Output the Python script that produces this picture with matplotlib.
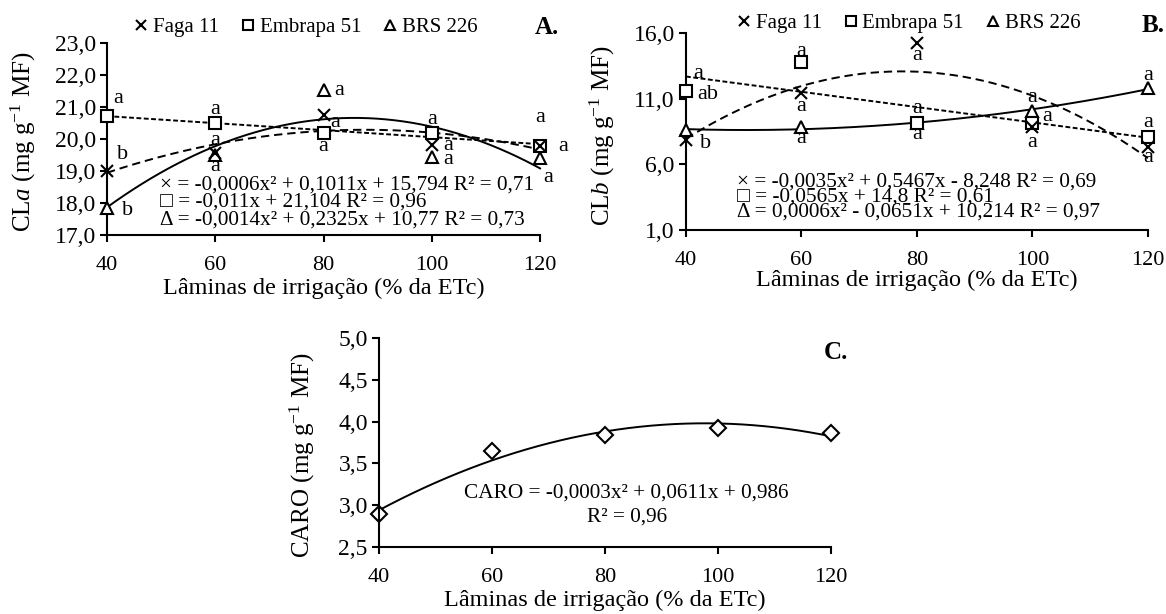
import numpy as np
import matplotlib
matplotlib.use('Agg')
import matplotlib.pyplot as plt

plt.rcParams['font.family'] = ['Liberation Serif', 'DejaVu Serif']
plt.rcParams['mathtext.fontset'] = 'custom'
plt.rcParams['mathtext.rm'] = 'Liberation Serif'
plt.rcParams['mathtext.it'] = 'Liberation Serif:italic'
plt.rcParams['lines.scale_dashes'] = False

## Data.
laminas = [40, 60, 80, 100, 120]
cultivares = ['Faga 11', 'Embrapa 51', 'BRS 226']

cla_faga     = [19.0, 19.56, 20.75, 19.81, 19.78]
cla_embrapa  = [20.72, 20.5, 20.19, 20.19, 19.78]
cla_brs      = [17.85, 19.5, 21.53, 19.44, 19.4]
cla_letras   = [['b', 'a', 'a', 'a', 'a'],
                ['a', 'a', 'a', 'a', 'a'],
                ['b', 'a', 'a', 'a', 'a']]
cla_eqs = ['\u00d7 = -0,0006x\u00b2 + 0,1011x + 15,794 R\u00b2 = 0,71',
           '\u25a1 = -0,011x + 21,104 R\u00b2 = 0,96',
           '\u0394 = -0,0014x\u00b2 + 0,2325x + 10,77 R\u00b2 = 0,73']

clb_faga     = [7.85, 11.43, 15.24, 8.85, 7.3]
clb_embrapa  = [11.6, 13.8, 9.15, 9.15, 8.1]
clb_brs      = [8.6, 8.85, 9.15, 10.06, 11.8]
clb_letras   = [['b', 'a', 'a', 'a', 'a'],
                ['ab', 'a', 'a', 'a', 'a'],
                ['a', 'a', 'a', 'a', 'a']]
clb_eqs = ['\u00d7 = -0,0035x\u00b2 + 0,5467x - 8,248 R\u00b2 = 0,69',
           '\u25a1 = -0,0565x + 14,8 R\u00b2 = 0,61',
           '\u0394 = 0,0006x\u00b2 - 0,0651x + 10,214 R\u00b2 = 0,97']

caro = [2.89, 3.65, 3.84, 3.92, 3.86]

## Plotting.
fig = plt.figure(figsize=(11.66, 6.14), dpi=100)
axA = fig.add_axes([0.0918, 0.6173, 0.3714, 0.3127])
axB = fig.add_axes([0.5883, 0.6254, 0.3962, 0.3208])
axC = fig.add_axes([0.3250, 0.1091, 0.3877, 0.3404])

x = np.array(laminas)
xs = np.linspace(40, 120, 200)

# marker, line style, fit degree for Faga / Embrapa / BRS
estilos = [('x', (0, (6, 3.5)), 2),
           ('s', (0, (3.5, 1.8)), 1),
           ('^', '-', 2)]

def painel(ax, series, letras, offsets):
    for k in [2, 1, 0]:
        y = np.array(series[k])
        mk, ls, deg = estilos[k]
        coef = np.polyfit(x, y, deg)
        ax.plot(xs, np.polyval(coef, xs), color='k', lw=1.4, ls=ls, zorder=2,
                clip_on=False)
    for k in [2, 1, 0]:
        y = np.array(series[k])
        mk = estilos[k][0]
        ax.plot(x, y, ls='none', marker=mk, ms=9, mfc='white', mec='k',
                mew=1.5, zorder=3, label=cultivares[k], clip_on=False)
        for i in range(5):
            dx, dy = offsets[k][i]
            ax.annotate(letras[k][i], (x[i], y[i]), xytext=(dx * 0.72, -dy * 0.72),
                        textcoords='offset points', ha='center', va='center',
                        fontsize=16, zorder=4)

def estilo_eixos(ax):
    for s in ['top', 'right']:
        ax.spines[s].set_visible(False)
    for s in ['left', 'bottom']:
        ax.spines[s].set_linewidth(1.5)
    ax.tick_params(width=1.5, length=5)
    ax.tick_params(axis='x', labelsize=16, pad=10)
    ax.tick_params(axis='y', labelsize=17, pad=3)
    ax.set_xlim(40, 120)
    ax.set_xticks(laminas)
    ax.set_xlabel('L\u00e2minas de irriga\u00e7\u00e3o (% da ETc)', fontsize=17.5, va='center')
    ax.yaxis.label.set_va('center')

def fmt(v):
    return '{:.1f}'.format(v).replace('.', ',')

# offsets in pixels (dx right, dy down) for the letters
offA = [[(16, -16), (0, -13), (12, 8), (16, 0), (23, 0)],
        [(11, -17), (0, -13), (0, 14), (0, -13), (0, -29)],
        [(21, 3), (0, 12), (16, 0), (16, 3), (8, 19)]]
offB = [[(20, 3), (0, 13), (0, 12), (0, 16), (0, 10)],
        [(22, 4), (0, -10), (0, -14), (15, -6), (0, -14)],
        [(12, -57), (0, 12), (0, 12), (0, -14), (0, -13)]]

# Panel A
painel(axA, [cla_faga, cla_embrapa, cla_brs], cla_letras, offA)
estilo_eixos(axA)
axA.set_ylim(17, 23)
axA.set_yticks(np.arange(17, 23.5, 1))
axA.set_yticklabels([fmt(v) for v in np.arange(17, 23.5, 1)])
axA.set_ylabel(r'CL$\it{a}$ (mg g$^{-1}$ MF)', fontsize=18)
axA.yaxis.set_label_coords(-0.194, 0.484)
axA.xaxis.set_label_coords(0.5, -0.276)
for j, eq in enumerate(cla_eqs):
    axA.text(0.122, [0.26, 0.172, 0.078][j], eq, transform=axA.transAxes,
             fontsize=15.3, ha='left', va='center')
axA.text(1.016, 1.083, 'A.', transform=axA.transAxes, fontsize=18,
         fontweight='bold', ha='center', va='center')

# Panel B
painel(axB, [clb_faga, clb_embrapa, clb_brs], clb_letras, offB)
estilo_eixos(axB)
axB.set_ylim(1, 16)
axB.set_yticks(np.arange(1, 16.5, 5))
axB.set_yticklabels([fmt(v) for v in np.arange(1, 16.5, 5)])
axB.set_ylabel(r'CL$\it{b}$ (mg g$^{-1}$ MF)', fontsize=18)
axB.yaxis.set_label_coords(-0.18, 0.48)
axB.xaxis.set_label_coords(0.5, -0.254)
for j, eq in enumerate(clb_eqs):
    axB.text(0.11, [0.244, 0.168, 0.091][j], eq, transform=axB.transAxes,
             fontsize=15.3, ha='left', va='center')
axB.text(1.011, 1.04, 'B.', transform=axB.transAxes, fontsize=18,
         fontweight='bold', ha='center', va='center')

# legends
for ax, (lx, ly) in [(axA, (0.46, 1.083)), (axB, (0.483, 1.05))]:
    h, l = ax.get_legend_handles_labels()
    order = [2, 1, 0]
    ax.legend([h[i] for i in order], [l[i] for i in order], loc='center',
              bbox_to_anchor=(lx, ly), ncol=3, frameon=False, fontsize=15,
              handlelength=0.6, handletextpad=0.25, columnspacing=1.1,
              borderaxespad=0, borderpad=0, markerscale=0.75)

# Panel C
axC.plot(xs, np.polyval(np.polyfit(x, caro, 2), xs), color='k', lw=1.4)
axC.plot(x, caro, ls='none', marker='D', ms=8, mfc='white', mec='k', mew=1.5,
         clip_on=False)
estilo_eixos(axC)
axC.set_ylim(2.5, 5.0)
axC.set_yticks(np.arange(2.5, 5.01, 0.5))
axC.set_yticklabels([fmt(v) for v in np.arange(2.5, 5.01, 0.5)])
axC.set_ylabel('CARO (mg g$^{-1}$ MF)', fontsize=18)
axC.yaxis.set_label_coords(-0.17, 0.44)
axC.xaxis.set_label_coords(0.5, -0.254)
axC.text(0.548, 0.258, 'CARO = -0,0003x\u00b2 + 0,0611x + 0,986', transform=axC.transAxes,
         fontsize=15.3, ha='center', va='center')
axC.text(0.549, 0.144, 'R\u00b2 = 0,96', transform=axC.transAxes,
         fontsize=15.3, ha='center', va='center')
axC.text(1.011, 0.933, 'C.', transform=axC.transAxes, fontsize=18,
         fontweight='bold', ha='center', va='center')

fig.savefig('out.png', dpi=100)
